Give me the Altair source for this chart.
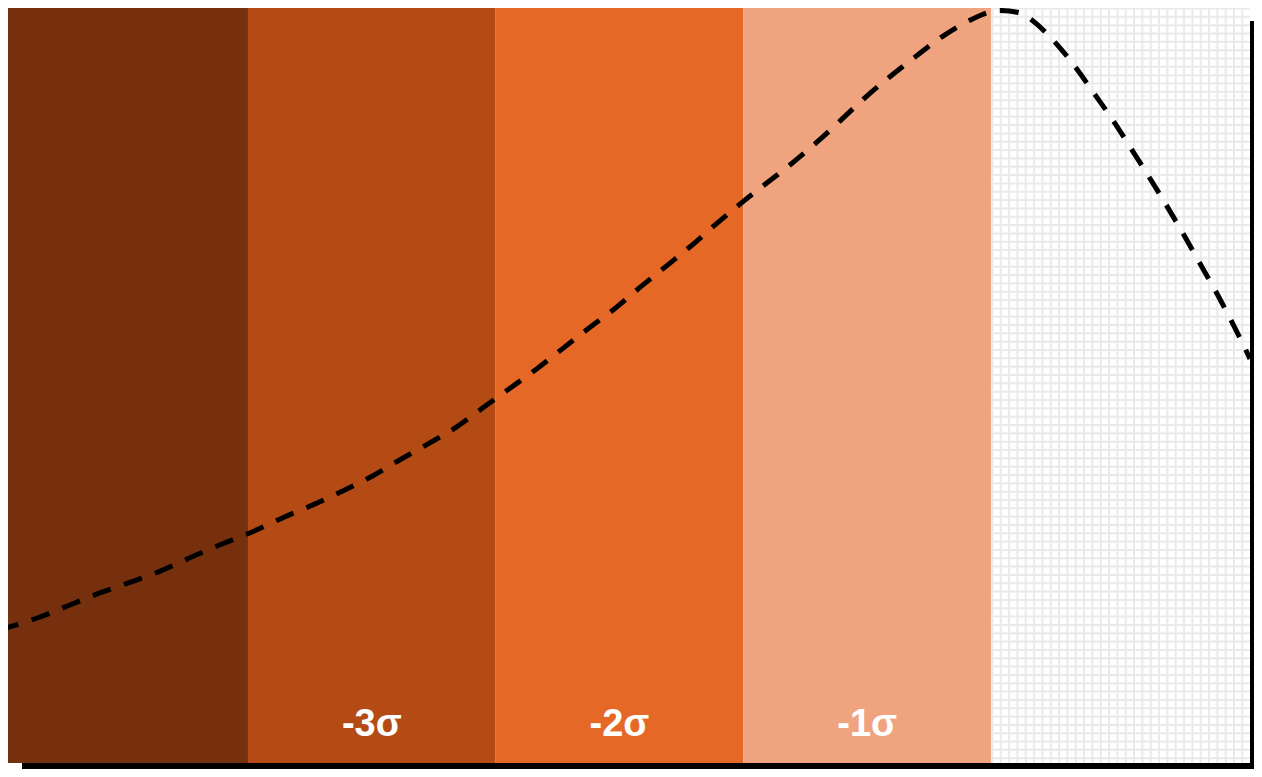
import altair as alt
import pandas as pd
import numpy as np

# ---- data -------------------------------------------------------------
band_start = [-4, -3, -2, -1]
band_end = [-3, -2, -1, 0]
band_color = ["#76300e", "#b44b15", "#e56827", "#efa47f"]

label_x = [-2.5, -1.5, -0.5]
label_text = ["-3σ", "-2σ", "-1σ"]

curve_x = [-4.001, -3.840, -3.719, -3.598, -3.468, -3.347, -3.226, -3.105, -2.984,
           -2.859, -2.738, -2.620, -2.499, -2.386, -2.273, -2.156, -2.043, -1.942,
           -1.833, -1.732, -1.627, -1.522, -1.421, -1.316, -1.215, -1.114, -1.001,
           -0.904, -0.803, -0.703, -0.610, -0.509, -0.408, -0.307, -0.198, -0.085,
           -0.004, 0.036, 0.117, 0.166, 0.258, 0.343, 0.416, 0.493, 0.565, 0.638,
           0.707, 0.775, 0.840, 0.904, 0.965, 1.026, 1.046]
curve_y = [0.177, 0.194, 0.210, 0.226, 0.241, 0.256, 0.274, 0.291, 0.307,
           0.326, 0.343, 0.361, 0.381, 0.403, 0.424, 0.447, 0.474, 0.498,
           0.524, 0.550, 0.577, 0.603, 0.631, 0.659, 0.686, 0.715, 0.746,
           0.771, 0.797, 0.825, 0.853, 0.884, 0.912, 0.938, 0.965, 0.987,
           0.998, 1.000, 0.997, 0.987, 0.958, 0.924, 0.890, 0.854, 0.817, 0.779,
           0.742, 0.704, 0.666, 0.629, 0.591, 0.551, 0.537]

# ---- scales / layout --------------------------------------------------
X_MIN, X_MAX = -3.969, 1.046
Y_MIN, Y_MAX = 0.0, 1.0033
W, H = 1242, 755

# background grid (decoration): ~8.33 px pitch
px_x = (X_MAX - X_MIN) / W
px_y = (Y_MAX - Y_MIN) / H
grid_x = [float(v) for v in np.arange(0.0 + 1.5 * px_x, X_MAX, 8.33 * px_x)]
grid_y = [float(v) for v in np.arange(Y_MAX - 0.5 * px_y, Y_MIN, -8.33 * px_y)]

xs = alt.Scale(domain=[X_MIN, X_MAX], nice=False, zero=False)
ys = alt.Scale(domain=[Y_MIN, Y_MAX], nice=False, zero=False)

bands = pd.DataFrame({"start": band_start, "end": band_end, "color": band_color,
                      "lo": [Y_MIN] * 4, "hi": [Y_MAX] * 4})
labels = pd.DataFrame({"x": label_x, "text": label_text, "y": [Y_MIN] * 3})
curve = pd.DataFrame({"x": curve_x, "y": curve_y})
gx = pd.DataFrame({"x": grid_x})
gy = pd.DataFrame({"y": grid_y})

frame = pd.DataFrame({"x0": [X_MIN], "x1": [X_MAX], "y0": [Y_MIN], "y1": [Y_MAX]})

shadow = alt.Chart(frame).mark_rect(
    color="black", xOffset=14, x2Offset=14, yOffset=13, y2Offset=13
).encode(
    x=alt.X("x0:Q", scale=xs, axis=None), x2="x1:Q",
    y=alt.Y("y0:Q", scale=ys, axis=None), y2="y1:Q",
)

white = alt.Chart(frame).mark_rect(color="white").encode(
    x=alt.X("x0:Q", scale=xs, axis=None), x2="x1:Q",
    y=alt.Y("y0:Q", scale=ys, axis=None), y2="y1:Q",
)

vgrid = alt.Chart(gx).mark_rule(color="#eaeaea", strokeWidth=2).encode(
    x=alt.X("x:Q", scale=xs, axis=None)
)
hgrid = alt.Chart(gy).mark_rule(color="#eaeaea", strokeWidth=2).encode(
    y=alt.Y("y:Q", scale=ys, axis=None)
)

band_layer = alt.Chart(bands).mark_rect().encode(
    x=alt.X("start:Q", scale=xs, axis=None), x2="end:Q",
    y=alt.Y("lo:Q", scale=ys, axis=None), y2="hi:Q",
    color=alt.Color("color:N", scale=None),
)

line = alt.Chart(curve).mark_line(
    color="black", strokeWidth=5, strokeDash=[19, 14], interpolate="monotone"
).encode(
    x=alt.X("x:Q", scale=xs, axis=None),
    y=alt.Y("y:Q", scale=ys, axis=None),
)

text = alt.Chart(labels).mark_text(
    color="white", font="Liberation Sans", fontWeight="bold", fontSize=38,
    align="center", baseline="alphabetic", dy=-27,
).encode(
    x=alt.X("x:Q", scale=xs, axis=None),
    y=alt.Y("y:Q", scale=ys, axis=None),
    text="text:N",
)

chart = alt.layer(shadow, white, vgrid, hgrid, band_layer, line, text).properties(
    width=W, height=H,
    autosize=alt.AutoSizeParams(type="none"),
    padding={"left": 0, "top": 0, "right": 4, "bottom": 6},
    background="white",
).configure_view(stroke=None)

chart.save("out.html", embed_options={"renderer": "svg", "actions": False})
